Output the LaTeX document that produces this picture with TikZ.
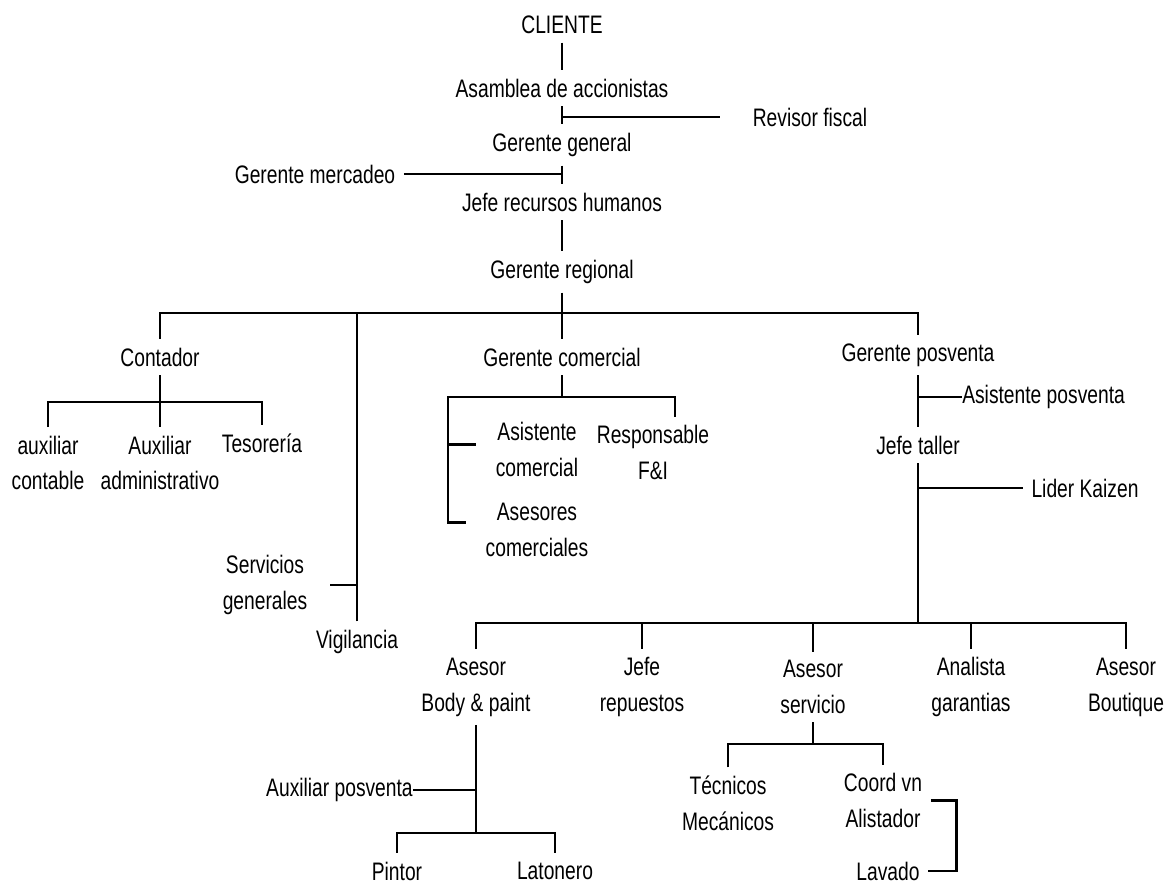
\documentclass[tikz,border=0pt]{standalone}
\usepackage{fontspec}
\setmainfont{Liberation Sans}[FakeStretch=0.76]
\usetikzlibrary{calc}

\tikzset{
  puesto/.style={align=center, inner sep=6pt},
  linea/.style={line width=2pt},
}

\begin{document}
\begin{tikzpicture}[x=0.025cm, y=-0.025cm, font=\fontsize{18}{25.5}\selectfont]
        \useasboundingbox (0,0) rectangle (1168,886);

        %=== Direccion ===
        \node[puesto] (cli) at (562,25) {CLIENTE};
        \node[puesto] (asa) at (562,88) {Asamblea de accionistas};
        \node[puesto] (rev) at (810,117) {Revisor fiscal};
        \node[puesto] (ger) at (562,145) {Gerente general};
        \node[puesto] (mer) at (315,174) {Gerente mercadeo};
        \node[puesto] (jrh) at (562,202) {Jefe recursos humanos};
        \node[puesto] (reg) at (562,272) {Gerente regional};

        \draw[linea] (cli.south) -- (asa.north);
        \draw[linea] (asa.south) -- (ger.north);
        \draw[linea, shorten >=17pt] (asa.south |- rev.west) -- (rev.west);
        \draw[linea] (ger.south) -- (jrh.north);
        \draw[linea] (mer.east) -- (mer.east -| jrh.north);
        \draw[linea] (jrh.south) -- (reg.north);

        %=== Primer nivel ===
        \coordinate (b1) at (562,313);
        \node[puesto] (con) at (160,357) {Contador};
        \node[puesto] (com) at (562,357) {Gerente comercial};
        \node[puesto] (pos) at (918,355) {Gerente posventa};
        \node[puesto] (ser) at (265,585) {Servicios\\generales};
        \node[puesto] (vig) at (357,642) {Vigilancia};

        \draw[linea] (reg.south) -- (b1);
        \draw[linea] (con.north) |- (b1) -| (pos.north);
        \draw[linea] (b1) -- (com.north);
        \draw[linea] (vig.north) -- (vig.north |- b1);
        \draw[linea, shorten <=10pt] (ser.east) -- (ser.east -| vig.north);

        %=== Contador ===
        \coordinate (b2) at (160,402);
        \node[puesto] (auc) at (48,463) {auxiliar\\contable};
        \node[puesto] (aad) at (160,463) {Auxiliar\\administrativo};
        \node[puesto] (tes) at (262,443) {Tesorería};

        \draw[linea] (con.south) -- (b2);
        \draw[linea] (auc.north) |- (b2) -| (tes.north);
        \draw[linea] (b2) -- (aad.north);

        %=== Gerente comercial ===
        \coordinate (b3) at (562,397);
        \coordinate (b3i) at (448,397);
        \node[puesto] (asi) at (537,449.5) {Asistente\\comercial};
        \node[puesto] (asc) at (537,529.5) {Asesores\\comerciales};
        \node[puesto] (rfi) at (653,452.5) {Responsable\\F\&I};

        \draw[linea] (com.south) -- (b3);
        \draw[linea] (b3) -| ($(rfi.north)+(22,0)$);
        \draw[linea, shorten >=8pt] (b3) -- (b3i) |- ($(asc.west)+(0,-7)$);
        \draw[linea, shorten >=8pt] ($(b3i |- asi.west)+(0,-5)$) -- ($(asi.west)+(0,-5)$);

        %=== Gerente posventa ===
        \node[puesto, anchor=west, inner sep=0pt] (asp) at (962,397) {Asistente posventa};
        \node[puesto] (jta) at (918,445) {Jefe taller};
        \node[puesto] (lid) at (1085,488) {Lider Kaizen};

        \draw[linea] (pos.south) -- (jta.north);
        \draw[linea] (pos.south |- asp.west) -- (asp.west);
        \draw[linea] (jta.south |- lid.west) -- (lid.west);

        %=== Jefe taller ===
        \coordinate (b4) at (918,623);
        \foreach \x/\n/\t in {476/abp/{Asesor\\Body \& paint}, 642/jre/{Jefe\\repuestos},
            813/ase/{Asesor\\servicio}, 971/ana/{Analista\\garantias}, 1126/abo/{Asesor\\Boutique}}
            \node[puesto] (\n) at (\x,687) {\t};

        \draw[linea] (jta.south) -- (b4);
        \draw[linea] (abp.north) |- (b4) -| (abo.north);
        \foreach \n in {jre, ase, ana}
            \draw[linea] (\n.north) -- (\n.north |- b4);

        %=== Body & paint ===
        \coordinate (b5) at (476,833);
        \node[puesto, anchor=east, inner sep=0pt] (aux) at (413,790) {Auxiliar posventa};
        \node[puesto] (pin) at (397,871) {Pintor};
        \node[puesto] (lat) at (555,871) {Latonero};

        \draw[linea] (abp.south) -- (b5);
        \draw[linea] (aux.east) -- (aux.east -| b5);
        \draw[linea] (pin.north) |- (b5) -| (lat.north);

        %=== Asesor servicio ===
        \coordinate (b6) at (813,744);
        \node[puesto] (tec) at (728,803.5) {Técnicos\\Mecánicos};
        \node[puesto] (coo) at (883,800.5) {Coord vn\\Alistador};
        \node[puesto] (lav) at (888,871) {Lavado};

        \draw[linea] (ase.south) -- (b6);
        \draw[linea] (tec.north) |- (b6) -| (coo.north);
        \draw[linea] (coo.east) -- ++(26,0) |- (lav.east);
\end{tikzpicture}
\end{document}
